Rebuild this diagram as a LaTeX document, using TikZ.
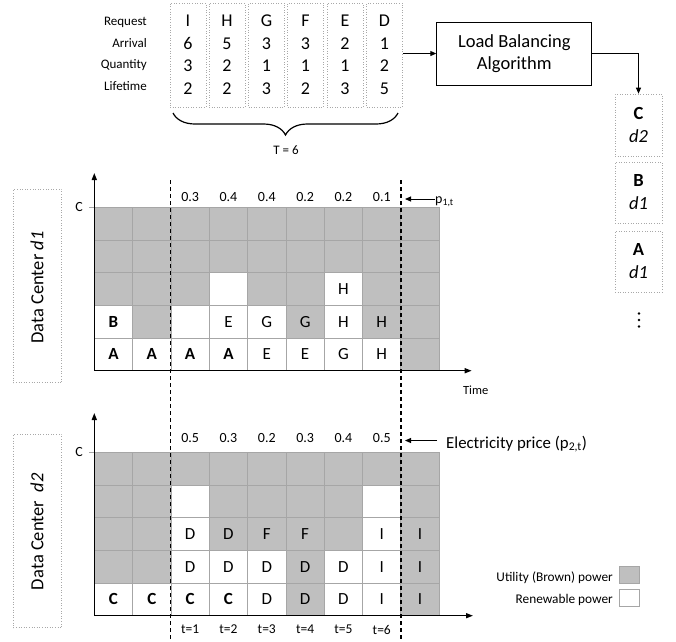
\documentclass[tikz,border=0pt]{standalone}
\usepackage{fontspec}
\setmainfont{Carlito}
\usetikzlibrary{decorations.pathreplacing,arrows.meta}
\definecolor{utilgray}{HTML}{BFBFBF}
\definecolor{gridc}{HTML}{A6A6A6}
\definecolor{dotc}{HTML}{A8A8A8}
\newcommand\fsz[1]{\fontsize{#1}{#1}\selectfont}
\begin{document}
\begin{tikzpicture}[x=1pt,y=-1pt,
  dotbox/.style={draw=dotc, dotted, line width=0.6pt, inner sep=0pt},
  cell/.style={draw=gridc, line width=0.9pt, minimum width=38.33pt, minimum height=32.67pt, inner sep=0pt, font=\fsz{17}},
  ug/.style={fill=utilgray},
  rw/.style={fill=white},
  arr/.style={-{Triangle[length=6pt,width=5pt]}, line width=1pt},
  axis/.style={{Triangle[length=7pt,width=5pt]}-{Triangle[length=7pt,width=5pt]}, line width=1.4pt},
  vline/.style={line width=1.1pt, dash pattern=on 4pt off 3pt},
  lbl/.style={font=\fsz{13}, inner sep=0pt},
  val/.style={font=\fsz{18}, inner sep=0pt},
  price/.style={font=\fsz{14}, inner sep=0pt},
  small/.style={font=\fsz{13.5}, inner sep=0pt},
  qdot/.style={circle, fill=black, inner sep=0pt, minimum size=2.6pt},
]
\useasboundingbox (0,0) rectangle (676,641);

% ---------- request table ----------
\node[lbl, anchor=base east] (lReq) at (147,25.7) {Request};
\node[lbl, anchor=base east] (lArr) at (147,47.3) {Arrival};
\node[lbl, anchor=base east] (lQty) at (147,68.7) {Quantity};
\node[lbl, anchor=base east] (lLif) at (147,90.7) {Lifetime};
\foreach \rn/\rx/\ra/\rqq/\rl in {I/188/6/3/2, H/227/5/2/2, G/266.5/3/1/3, F/305.5/3/1/2, E/345/2/1/3, D/384.5/1/2/5}{
  \node[dotbox, minimum width=36pt, minimum height=104pt] (r\rn) at (\rx,55) {};
  \node[val, anchor=base] (r\rn-n) at (\rx,26.7) {\rn};
  \node[val, anchor=base] (r\rn-a) at (\rx,49.2) {\ra};
  \node[val, anchor=base] (r\rn-q) at (\rx,71.6) {\rqq};
  \node[val, anchor=base] (r\rn-l) at (\rx,94) {\rl};
}
\coordinate (brL) at (173,113);
\coordinate (brR) at (398,113);
\draw[decorate, decoration={brace, mirror, amplitude=22pt}, line width=1.2pt] (brL) -- (brR);
\node[font=\fsz{13}] (Tlab) at (286,150) {T = 6};

% ---------- load balancing ----------
\node[draw, line width=1pt, minimum width=155pt, minimum height=63pt, align=center,
      font=\fontsize{18.5}{22}\selectfont] (lb) at (514.3,53.5) {Load Balancing\\Algorithm};
\draw[arr] (rD.east |- lb.west) -- (lb.west);

\node[dotbox, minimum width=47pt, minimum height=62pt, align=center, font=\fontsize{18.5}{23}\selectfont] (qC) at (638.5,125) {\textbf{C}\\\textit{d2}};
\node[dotbox, minimum width=47pt, minimum height=61pt, align=center, font=\fontsize{18.5}{23}\selectfont] (qB) at (638.5,192.5) {\textbf{B}\\\textit{d1}};
\node[dotbox, minimum width=47pt, minimum height=61pt, align=center, font=\fontsize{18.5}{23}\selectfont] (qA) at (638.5,261.5) {\textbf{A}\\\textit{d1}};
\node[qdot] (qd1) at (639,313.5) {};
\node[qdot] (qd2) at (639,320) {};
\node[qdot] (qd3) at (639,326.5) {};
\draw[arr] (lb.east) -| (qC.north);

% ---------- data center d1 ----------
\node[dotbox, minimum width=48.4pt, minimum height=193.4pt] (dc1) at (37.5,286) {};
\node[rotate=90, font=\fsz{18.5}] (dc1t) at (37,287.5) {Data Center \textit{d1}};

\foreach \i in {1,...,9}{
  \node[cell,ug] (a-\i-5) at ({94.3+(\i-0.5)*38.33},{370.7-4.5*32.67}) {};
  \node[cell,ug] (a-\i-4) at ({94.3+(\i-0.5)*38.33},{370.7-3.5*32.67}) {};
}
\foreach \i/\r/\f/\t in {1/3/ug/{},2/3/ug/{},3/3/ug/{},4/3/rw/{},5/3/ug/{},6/3/ug/{},7/3/rw/H,8/3/ug/{},9/3/ug/{},
  1/2/rw/\textbf{B},2/2/ug/{},3/2/rw/{},4/2/rw/E,5/2/rw/G,6/2/ug/G,7/2/rw/H,8/2/ug/H,9/2/ug/{},
  1/1/rw/\textbf{A},2/1/rw/\textbf{A},3/1/rw/\textbf{A},4/1/rw/\textbf{A},5/1/rw/E,6/1/rw/E,7/1/rw/G,8/1/rw/H,9/1/ug/{}}{
  \node[cell,\f] (a-\i-\r) at ({94.3+(\i-0.5)*38.33},{370.7-(\r-0.5)*32.67}) {\t};
}
\coordinate (o1) at (94.3,370.7);
\coordinate (y1) at (94.3,173);
\coordinate (x1) at (471.7,370.7);
\draw[axis] (y1) -- (o1) -- (x1);
\node[font=\fsz{14}] (c1) at (79,207) {C};
\coordinate (ct1) at (89,207);
\draw[gridc, line width=0.8pt] (ct1) -- (ct1 -| o1);
\node[font=\fsz{12.5}] (time) at (475.7,390.7) {Time};
\foreach \p [count=\k from 3] in {0.3,0.4,0.4,0.2,0.2,0.1}
  \node[price] (p1-\k) at ({94.3+(\k-0.5)*38.33},197.3) {\p};
\node[font=\fsz{14}, anchor=base west, inner sep=0pt] (p1lab) at (435,203) {p\textsubscript{1,t}};
\coordinate (p1tip) at (405,199);
\draw[arr] (p1tip -| p1lab.west) -- (p1tip);

% ---------- data center d2 ----------
\node[dotbox, minimum width=48.4pt, minimum height=193.4pt] (dc2) at (37.5,531) {};
\node[rotate=90, font=\fsz{18.5}] (dc2t) at (37,531.7) {Data Center\ \ \textit{d2}};

\foreach \i in {1,...,9}{
  \node[cell,ug] (b-\i-5) at ({94.3+(\i-0.5)*38.33},{615.7-4.5*32.67}) {};
}
\foreach \i/\r/\f/\t in {1/4/ug/{},2/4/ug/{},3/4/rw/{},4/4/ug/{},5/4/ug/{},6/4/ug/{},7/4/ug/{},8/4/rw/{},9/4/ug/{},
  1/3/ug/{},2/3/ug/{},3/3/rw/D,4/3/ug/D,5/3/ug/F,6/3/ug/F,7/3/ug/{},8/3/rw/I,9/3/ug/I,
  1/2/ug/{},2/2/ug/{},3/2/rw/D,4/2/rw/D,5/2/rw/D,6/2/ug/D,7/2/rw/D,8/2/rw/I,9/2/ug/I,
  1/1/rw/\textbf{C},2/1/rw/\textbf{C},3/1/rw/\textbf{C},4/1/rw/\textbf{C},5/1/rw/D,6/1/ug/D,7/1/rw/D,8/1/rw/I,9/1/ug/I}{
  \node[cell,\f] (b-\i-\r) at ({94.3+(\i-0.5)*38.33},{615.7-(\r-0.5)*32.67}) {\t};
}
\coordinate (o2) at (94.3,615.7);
\coordinate (y2) at (94.3,413);
\coordinate (x2) at (473,615.7);
\draw[axis] (y2) -- (o2) -- (x2);
\node[font=\fsz{14}] (c2) at (79,452.3) {C};
\coordinate (ct2) at (89,452.3);
\draw[gridc, line width=0.8pt] (ct2) -- (ct2 -| o2);
\foreach \p [count=\k from 3] in {0.5,0.3,0.2,0.3,0.4,0.5}
  \node[price] (p2-\k) at ({94.3+(\k-0.5)*38.33},437.8) {\p};
\foreach \k in {1,...,6}
  \node[small] (t-\k) at ({94.3+(\k+1.5)*38.33},629.5) {t=\k};
\node[font=\fsz{16.8}, anchor=base west, inner sep=0pt] (p2lab) at (446,448) {Electricity price (p\textsubscript{2,t})};
\coordinate (p2tip) at (405,440.5);
\coordinate (p2tail) at (437,440.5);
\draw[arr] (p2tail) -- (p2tip);

% ---------- dashed window ----------
\coordinate (dAt) at (170.7,180);
\coordinate (dAb) at (170.7,641);
\coordinate (dBt) at (401,180);
\coordinate (dBb) at (401,641);
\draw[vline] (dAt) -- (dAb);
\draw[vline] (dBt) -- (dBb);

% ---------- legend ----------
\node[draw=gridc, line width=0.9pt, fill=utilgray, minimum width=20pt, minimum height=17pt, inner sep=0pt] (lg1) at (629,574.5) {};
\node[draw=gridc, line width=0.9pt, fill=white, minimum width=20pt, minimum height=17pt, inner sep=0pt] (lg2) at (629,598) {};
\node[font=\fsz{13.3}, anchor=east, inner sep=0pt] (lg1t) at (613,577.7) {Utility (Brown) power};
\node[font=\fsz{13.3}, anchor=east, inner sep=0pt] (lg2t) at (613,600) {Renewable power};
\end{tikzpicture}
\end{document}
